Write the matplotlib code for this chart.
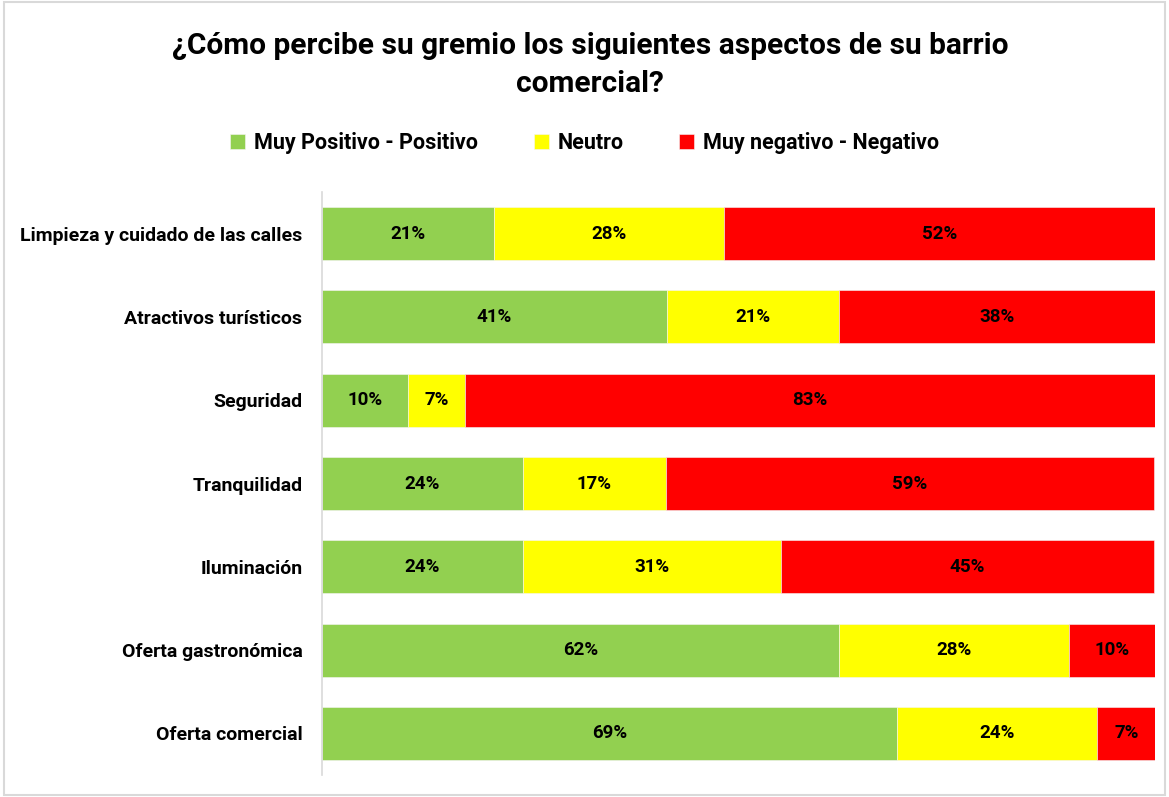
import matplotlib.pyplot as plt
from matplotlib.patches import Rectangle

plt.rcParams['font.family'] = ['Liberation Sans Narrow', 'Roboto', 'DejaVu Sans']

# Data (percent of respondents)
categories = ['Limpieza y cuidado de las calles', 'Atractivos turísticos', 'Seguridad',
              'Tranquilidad', 'Iluminación', 'Oferta gastronómica', 'Oferta comercial']
positivo = [20.7, 41.4, 10.3, 24.1, 24.1, 62.1, 69.0]
neutro = [27.6, 20.7, 6.9, 17.2, 31.0, 27.6, 24.1]
negativo = [51.7, 37.9, 82.8, 58.6, 44.8, 10.3, 6.9]
series_names = ['Muy Positivo - Positivo', 'Neutro', 'Muy negativo - Negativo']
colors = ['#92D050', '#FFFF00', '#FF0000']

fig = plt.figure(figsize=(11.69, 7.97), dpi=100)
ax = fig.add_axes([0.2754, 0.0276, 0.7126, 0.7315])

y = list(range(len(categories)))
left = [0] * len(categories)
for vals, name, col in zip([positivo, neutro, negativo], series_names, colors):
    bars = ax.barh(y, vals, left=left, height=0.635, color=col, label=name,
                   edgecolor='#F5F5F5', linewidth=0.4)
    for b, v in zip(bars, vals):
        ax.text(b.get_x() + b.get_width() / 2, b.get_y() + b.get_height() / 2,
                f'{round(v)}%', ha='center', va='center', fontsize=13.5,
                fontweight='bold', color='black')
    left = [l + v for l, v in zip(left, vals)]

ax.set_xlim(0, 100)
ax.set_ylim(len(categories) - 0.5, -0.5)
ax.set_yticks(y)
ax.set_yticklabels(categories, fontsize=14, fontweight='bold')
ax.tick_params(axis='y', length=0, pad=14)
ax.set_xticks([])
for s in ['top', 'right', 'bottom']:
    ax.spines[s].set_visible(False)
ax.spines['left'].set_color('#D9D9D9')
ax.spines['left'].set_linewidth(1.2)

fig.text(0.505, 0.919, '¿Cómo percibe su gremio los siguientes aspectos de su barrio\ncomercial?',
         ha='center', va='center', fontsize=21.5, fontweight='bold', linespacing=1.45)

fig.legend(loc='center', bbox_to_anchor=(0.5, 0.82), ncol=3, frameon=False,
           prop={'size': 15.5, 'weight': 'bold'}, handlelength=0.7, handleheight=0.7,
           handletextpad=0.4, columnspacing=2.6)

# light border around the chart
fig.patches.append(Rectangle((0.003, 0.003), 0.994, 0.994, transform=fig.transFigure,
                             fill=False, edgecolor='#D9D9D9', linewidth=1.5))

fig.savefig('out.png', dpi=100)
